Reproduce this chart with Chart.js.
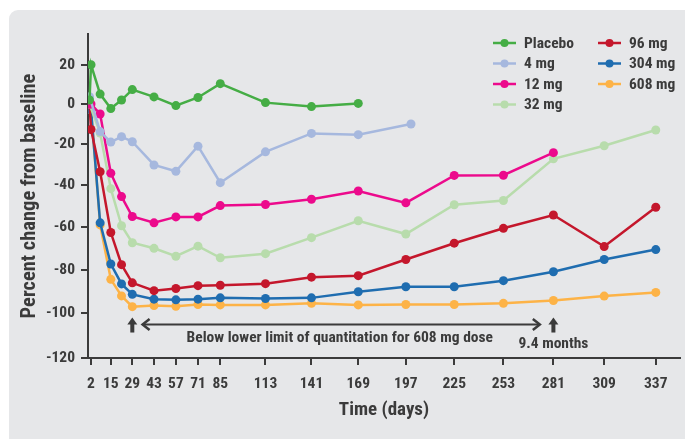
<!DOCTYPE html>
<html lang="en">
<head>
  <meta charset="UTF-8" />
  <meta name="viewport" content="width=device-width, initial-scale=1.0"/>
  <title>Percent change from baseline</title>
  <script src="https://cdn.jsdelivr.net/npm/chart.js"></script>
  <style>
    html, body {
      margin: 0;
      padding: 0;
      background: #fff;
    }
    #marco {
      position: relative;
      width: 685px;
      height: 439px;
    }
  </style>
</head>
<body>
  <div id="marco"><canvas id="grafico"></canvas></div>

  <script>
    // visit days (x) and axis ticks
    const visitDays = [1, 2, 8, 15, 22, 29, 43, 57, 71, 85, 113, 141, 169, 197, 225, 253, 281, 309, 337];
    const lowDoseDays = [1, 8, 15, 22, 29, 43, 57, 71, 85, 113, 141, 169, 200];
    const dayTicks = [2, 15, 29, 43, 57, 71, 85, 113, 141, 169, 197, 225, 253, 281, 309, 337];
    const pctTicks = [20, 0, -20, -40, -60, -80, -100, -120];

    // percent change from baseline, one array per dose group
    const placebo = [2, 20, 5, -2.3, 2, 7.3, 3.6, -0.8, 3.3, 10.3, 0.7, -1.3, 0.3];
    const mg4 = [3.7, -13.8, -19, -16.3, -18.8, -30.2, -33.3, -21, -38.8, -23.8, -14.7, -15.3, -10];
    const mg12 = [0, 0, -5, -34.2, -45.5, -55, -58, -55.2, -55.2, -49.8, -49.3, -46.8, -42.8, -48.5, -35.3, -35.2, -24.2];
    const mg32 = [0, null, -14.5, -41.7, -59.4, -67.4, -70, -73.7, -69, -74.4, -72.5, -65, -57, -63.3, -49.4, -47.4, -27.2, -20.8, -13];
    const mg96 = [0, -12.7, -33.5, -62.6, -77.6, -86, -89.6, -88.6, -87.3, -87.1, -86.4, -83.4, -82.7, -75.2, -67.6, -60.6, -54.3, -69.2, -50.6];
    const mg304 = [0, -3, -58, -77.3, -86.5, -91.3, -93.5, -93.8, -93.5, -92.9, -93.2, -92.9, -90.1, -87.8, -87.8, -85, -80.9, -75.2, -70.6];
    const mg608 = [0, -3, -59, -84.4, -92, -96.9, -96.4, -96.7, -95.9, -96.1, -96.1, -95.4, -96.1, -95.9, -95.9, -95.4, -94.1, -92.1, -90.4];

    const FUENTE = "'Roboto Condensed', 'Liberation Sans Narrow', sans-serif";
    const TEXTO = '#3b3b3b';

    // the original axes are slightly stretched, so a warped linear scale
    class WarpScale extends Chart.LinearScale {
      static id = 'warp';
      warp(v) { return v + (this.options.warp || 0) * v * v; }
      getPixelForValue(value) {
        const a = this.warp(this.min), b = this.warp(this.max);
        return this.getPixelForDecimal((this.warp(value) - a) / (b - a));
      }
      getValueForPixel(pixel) {
        const k = this.options.warp || 0;
        const a = this.warp(this.min), b = this.warp(this.max);
        const g = a + this.getDecimalForPixel(pixel) * (b - a);
        if (!k) return g;
        return (-1 + Math.sqrt(1 + 4 * k * g)) / (2 * k);
      }
    }
    Chart.register(WarpScale);

    function serie(label, color, days, values) {
      return {
        label: label,
        data: days.map((d, i) => ({ x: d, y: values[i] })).filter(p => p.y !== null && p.y !== undefined),
        borderColor: color,
        backgroundColor: color,
        pointBackgroundColor: color,
        pointBorderColor: color,
        borderWidth: 2.5,
        pointRadius: 4.5,
        pointBorderWidth: 0,
        tension: 0
      };
    }

    const fondo = {
      id: 'fondo',
      beforeDraw(chart) {
        const ctx = chart.ctx;
        ctx.save();
        ctx.fillStyle = '#fff';
        ctx.fillRect(0, 0, chart.width, chart.height);
        ctx.fillStyle = '#e6e7e9';
        ctx.beginPath();
        ctx.roundRect(9, 10, chart.width, chart.height, 9);
        ctx.fill();
        ctx.restore();
      }
    };

    const leyenda = {
      id: 'leyenda',
      afterDraw(chart) {
        const ctx = chart.ctx;
        chart.data.datasets.forEach((ds, i) => {
          const col = i < 4 ? 0 : 1;
          const row = i < 4 ? i : i - 4;
          const x = col ? 598 : 493;
          const y = 43 + row * 20.5;
          ctx.save();
          ctx.strokeStyle = ds.borderColor;
          ctx.lineWidth = 2.5;
          ctx.beginPath();
          ctx.moveTo(x, y);
          ctx.lineTo(x + 23, y);
          ctx.stroke();
          ctx.fillStyle = ds.borderColor;
          ctx.beginPath();
          ctx.arc(x + 11.5, y, 4, 0, Math.PI * 2);
          ctx.fill();
          ctx.fillStyle = TEXTO;
          ctx.font = 'bold 15.5px ' + FUENTE;
          ctx.textBaseline = 'middle';
          ctx.fillText(ds.label, x + 31, y + 1);
          ctx.restore();
        });
      }
    };

    function flechaArriba(ctx, cx, top, bottom) {
      ctx.beginPath();
      ctx.moveTo(cx, top);
      ctx.lineTo(cx + 5, top + 7);
      ctx.lineTo(cx - 5, top + 7);
      ctx.closePath();
      ctx.fill();
      ctx.fillRect(cx - 2, top + 6, 4, bottom - top - 6);
    }

    const notas = {
      id: 'notas',
      afterDatasetsDraw(chart) {
        const { ctx, scales: { x, y } } = chart;
        const yf = y.getPixelForValue(-105);
        const x0 = x.getPixelForValue(35);
        const x1 = x.getPixelForValue(274);
        ctx.save();
        ctx.strokeStyle = TEXTO;
        ctx.fillStyle = TEXTO;
        ctx.lineWidth = 2.2;
        ctx.beginPath();
        ctx.moveTo(x0 + 1, yf);
        ctx.lineTo(x1 - 1, yf);
        ctx.stroke();
        ctx.lineWidth = 2.5;
        ctx.beginPath();
        ctx.moveTo(x0 + 8, yf - 5.5);
        ctx.lineTo(x0 + 1, yf);
        ctx.lineTo(x0 + 8, yf + 5.5);
        ctx.stroke();
        ctx.beginPath();
        ctx.moveTo(x1 - 8, yf - 5.5);
        ctx.lineTo(x1 - 1, yf);
        ctx.lineTo(x1 - 8, yf + 5.5);
        ctx.stroke();

        flechaArriba(ctx, x.getPixelForValue(29), yf - 7, yf + 8);
        flechaArriba(ctx, x.getPixelForValue(281), yf - 7, yf + 8);

        ctx.font = 'bold 15.5px ' + FUENTE;
        ctx.textAlign = 'center';
        ctx.textBaseline = 'middle';
        ctx.fillText('Below lower limit of quantitation for 608 mg dose', x.getPixelForValue(158), y.getPixelForValue(-111));
        ctx.fillText('9.4 months', x.getPixelForValue(281), y.getPixelForValue(-114));
        ctx.restore();
      }
    };

    Chart.defaults.font.family = FUENTE;
    Chart.defaults.font.weight = 'bold';
    Chart.defaults.color = TEXTO;

    const ctx = document.getElementById('grafico').getContext('2d');
    new Chart(ctx, {
      type: 'line',
      data: {
        datasets: [
          serie('Placebo', '#45ad45', visitDays, placebo),
          serie('4 mg', '#a6b8de', lowDoseDays, mg4),
          serie('12 mg', '#ec0a8c', visitDays, mg12),
          serie('32 mg', '#b8dcac', visitDays, mg32),
          serie('96 mg', '#c4172c', visitDays, mg96),
          serie('304 mg', '#1f6db0', visitDays, mg304),
          serie('608 mg', '#fdb347', visitDays, mg608)
        ]
      },
      options: {
        responsive: true,
        maintainAspectRatio: false,
        devicePixelRatio: 1,
        animation: false,
        layout: { padding: { top: 34, right: 5, left: 0, bottom: 0 } },
        plugins: {
          legend: { display: false },
          tooltip: { enabled: false }
        },
        scales: {
          x: {
            type: 'warp',
            warp: 0.000337,
            min: 0,
            max: 350,
            afterBuildTicks: s => { s.ticks = dayTicks.map(v => ({ value: v })); },
            afterFit: s => { s.height = 81; },
            ticks: {
              autoSkip: false,
              maxRotation: 0,
              padding: 10,
              color: TEXTO,
              font: { size: 15.5, weight: 'bold' },
              callback: v => String(v)
            },
            grid: {
              drawOnChartArea: false,
              drawTicks: true,
              tickLength: 7,
              color: TEXTO,
              lineWidth: 2
            },
            border: { display: true, color: TEXTO, width: 2 },
            title: {
              display: true,
              text: 'Time (days)',
              color: TEXTO,
              font: { size: 19, weight: 'bold' },
              padding: { top: 0, bottom: 17 }
            }
          },
          y: {
            type: 'warp',
            warp: -0.000555,
            min: -120,
            max: 36,
            afterBuildTicks: s => { s.ticks = pctTicks.map(v => ({ value: v })); },
            afterFit: s => { s.width = 88; },
            ticks: {
              padding: 6,
              color: TEXTO,
              font: { size: 15.5, weight: 'bold' },
              callback: v => String(v)
            },
            grid: {
              drawOnChartArea: false,
              drawTicks: true,
              tickLength: 7,
              color: TEXTO,
              lineWidth: 2
            },
            border: { display: true, color: TEXTO, width: 2 },
            title: {
              display: true,
              text: 'Percent change from baseline',
              color: TEXTO,
              font: { size: 20.5, weight: 'bold' },
              padding: { top: 18, bottom: 0 }
            }
          }
        }
      },
      plugins: [fondo, leyenda, notas]
    });
  </script>
</body>
</html>
